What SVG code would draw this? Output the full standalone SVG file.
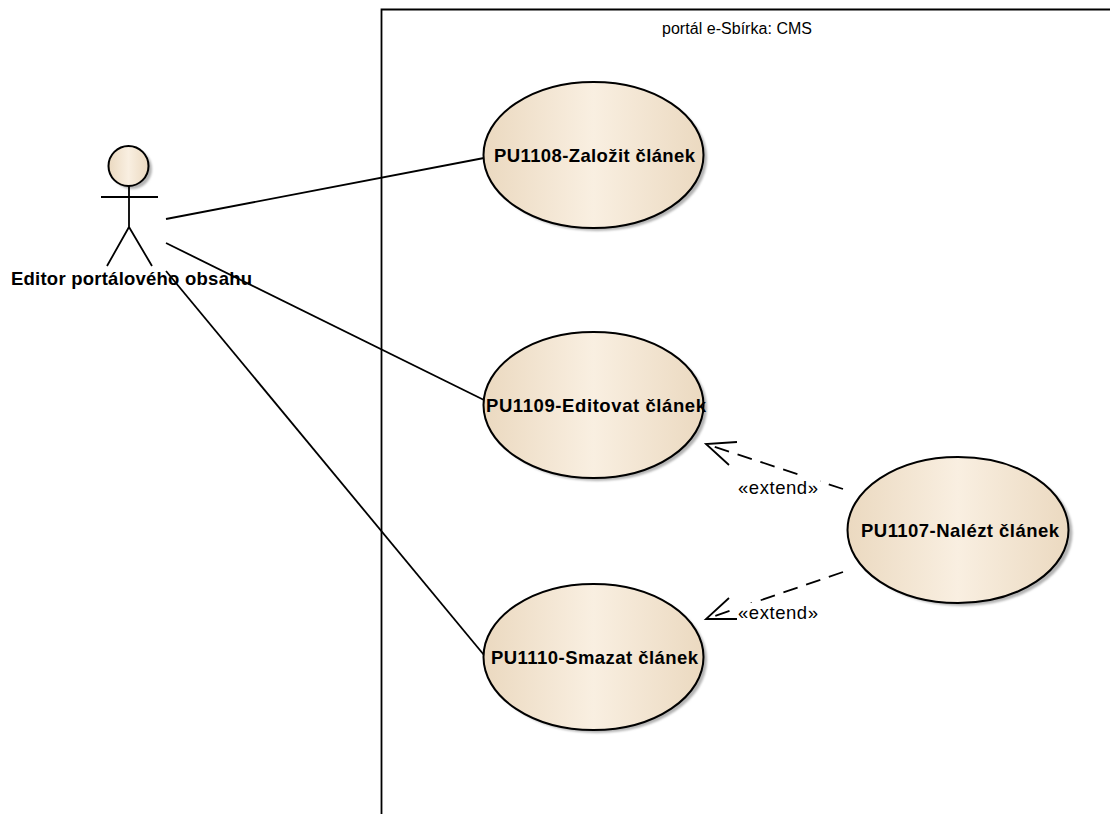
<svg xmlns="http://www.w3.org/2000/svg" width="1110" height="814" viewBox="0 0 1110 814">
<style>
text{font-family:"Liberation Sans",Arial,sans-serif;fill:#000}
.n{font-size:18.500px;font-weight:bold}
.l{font-size:18.500px}
.t{font-size:16px}
.u{fill:url(#g);stroke:#000;stroke-width:2}
.s{fill:#b4b4b4;filter:url(#b)}
.c{fill:none;stroke:#000;stroke-width:1.800}
.d{stroke-dasharray:15 9}
</style>
<defs>
<linearGradient id="g" x1="0" x2="1" y1="0" y2="0"><stop offset="0" stop-color="#ebd9c0"/><stop offset=".5" stop-color="#f9efe1"/><stop offset="1" stop-color="#ebd9c0"/></linearGradient>
<filter id="b" x="-10%" y="-10%" width="120%" height="120%"><feGaussianBlur stdDeviation="1.200"/></filter>
</defs>
<rect width="1110" height="814" fill="#fff"/>
<g id="boundary"><path class="c" d="M381.500 814V9.500H1110"/><text class="t" x="662" y="34" textLength="150">portál e-Sbírka: CMS</text></g>
<g id="connectors">
<path class="c" d="M166 219L484 158"/>
<path class="c" d="M166 243L484 400"/>
<path class="c" d="M166 271L484 655"/>
<path class="c d" d="M843 489L706 444"/>
<path class="c" d="M737 442L706 444L729 465"/>
<path class="c d" d="M843 572L706 619"/>
<path class="c" d="M729 598L706 619L737 619"/>
</g>
<g id="label1"><rect x="737" y="476" width="83" height="24" fill="#fff"/><text class="l" x="738" y="494" textLength="80">«extend»</text></g>
<g id="label2"><rect x="737" y="603" width="83" height="22" fill="#fff"/><text class="l" x="738" y="619" textLength="80">«extend»</text></g>
<g id="actor">
<circle class="s" cx="132" cy="169" r="20"/>
<circle class="u" cx="128.500" cy="166" r="20"/>
<path class="c" d="M101 197H158M129 186V227M129 227L107 266M129 227L152 266"/>
<text class="n" x="11" y="285" textLength="241">Editor portálového obsahu</text>
</g>
<g id="pu1108"><ellipse class="s" cx="597" cy="158" rx="110" ry="73"/><ellipse class="u" cx="593.500" cy="155" rx="110" ry="73"/><text class="n" x="494" y="162" textLength="201">PU1108-Založit článek</text></g>
<g id="pu1109"><ellipse class="s" cx="597" cy="408" rx="110" ry="73"/><ellipse class="u" cx="593.500" cy="405" rx="110" ry="73"/><text class="n" x="486" y="412" textLength="220">PU1109-Editovat článek</text></g>
<g id="pu1110"><ellipse class="s" cx="597" cy="660" rx="110" ry="73"/><ellipse class="u" cx="593.500" cy="657" rx="110" ry="73"/><text class="n" x="491" y="664" textLength="207">PU1110-Smazat článek</text></g>
<g id="pu1107"><ellipse class="s" cx="962" cy="533" rx="110.500" ry="73"/><ellipse class="u" cx="958" cy="530" rx="110.500" ry="73"/><text class="n" x="861" y="537" textLength="198">PU1107-Nalézt článek</text></g>
</svg>
